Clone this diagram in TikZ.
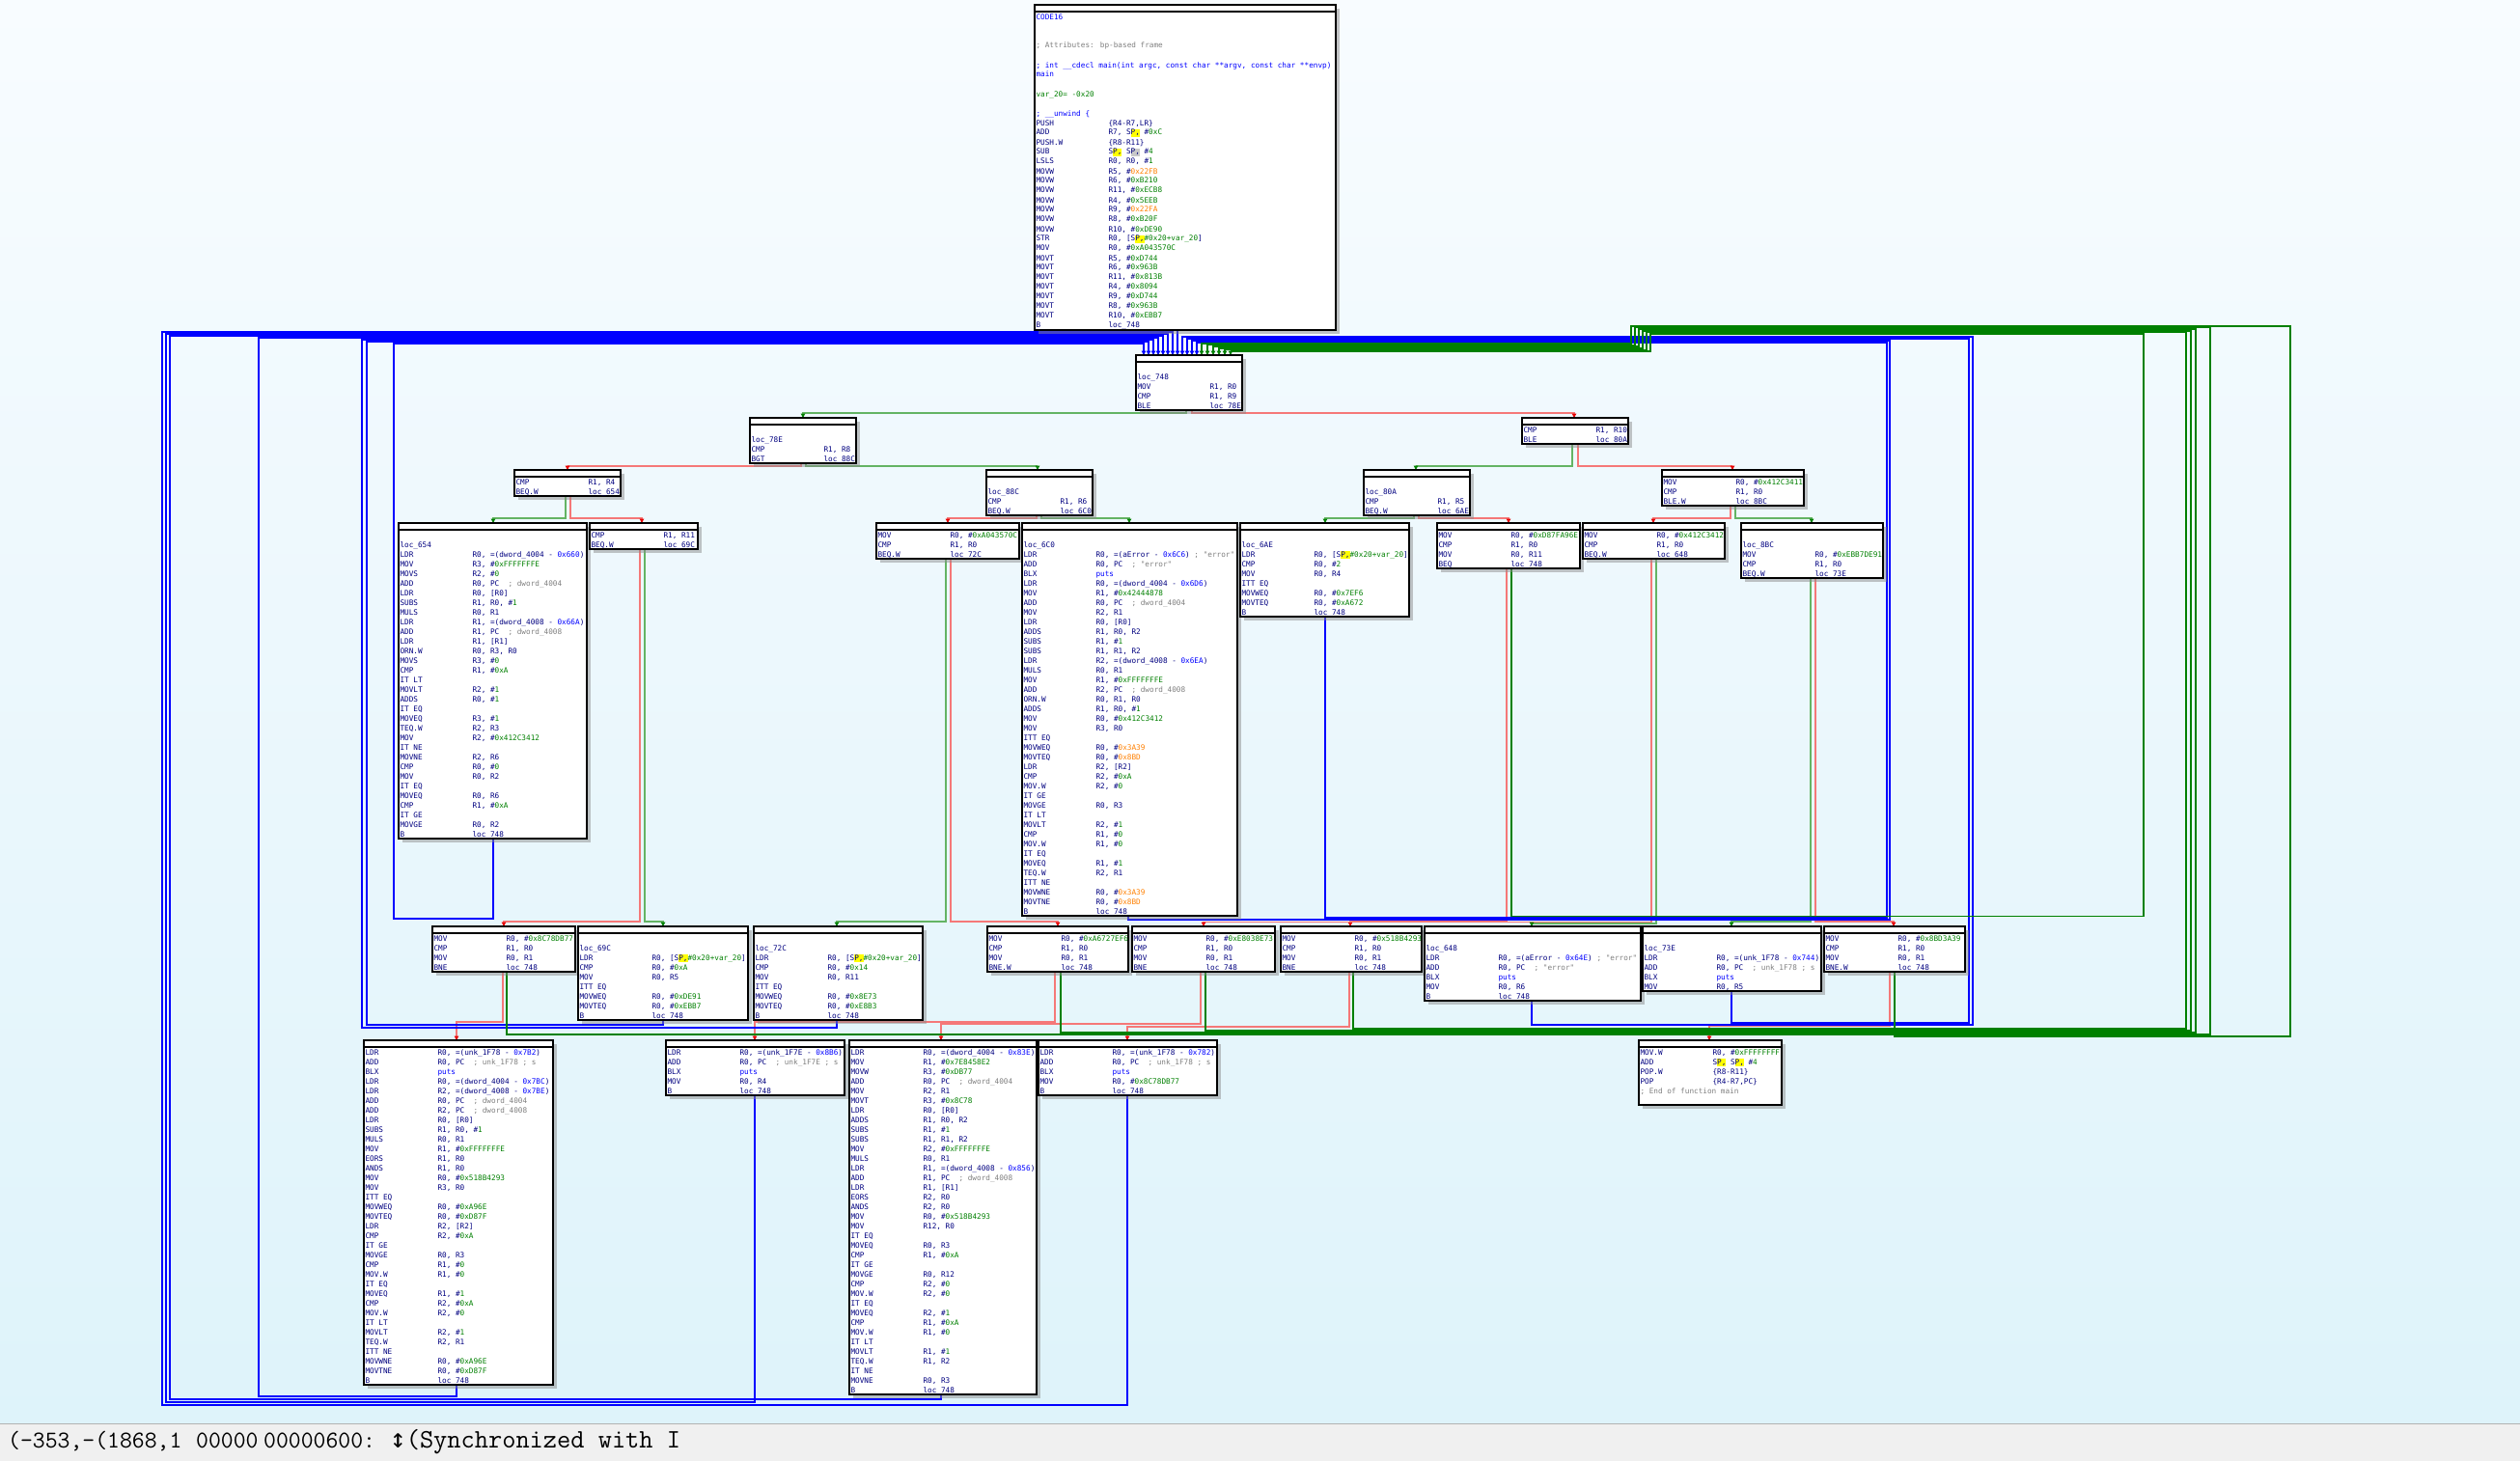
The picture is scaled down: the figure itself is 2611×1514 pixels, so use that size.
\documentclass[tikz,border=0pt]{standalone}
\usepackage{fontspec}
\newfontfamily\qmono{DejaVu Sans Mono}
\usetikzlibrary{arrows.meta}
\pgfdeclarelayer{bglayer}
\pgfdeclarelayer{edges}
\pgfsetlayers{bglayer,edges,main}
\definecolor{tnavy}{RGB}{0,0,128}
\definecolor{tgreen}{RGB}{0,128,0}
\definecolor{torange}{RGB}{255,128,0}
\definecolor{tblue}{RGB}{0,0,255}
\definecolor{tgrey}{RGB}{128,128,128}
\definecolor{thl}{RGB}{255,255,0}
\definecolor{thlg}{RGB}{200,200,200}
\definecolor{ered}{RGB}{245,120,120}
\definecolor{tipred}{RGB}{230,0,0}
\definecolor{egreen}{RGB}{100,180,100}
\definecolor{edgreen}{RGB}{0,128,0}
\definecolor{eblue}{RGB}{0,0,255}
\definecolor{bgtop}{RGB}{248,252,255}
\definecolor{bgbot}{RGB}{222,243,250}
\definecolor{sbar}{RGB}{240,240,240}
\newcommand\qg[1]{\textcolor{tgreen}{#1}}
\newcommand\qo[1]{\textcolor{torange}{#1}}
\newcommand\qb[1]{\textcolor{tblue}{#1}}
\newcommand\qc[1]{\textcolor{tgrey}{#1}}
\newcommand\qhl[2]{{\setlength{\fboxsep}{0pt}\colorbox{#1}{\rule[-1.5pt]{0pt}{7.5pt}#2}}}
\newcommand\qsp{S\qhl{thl}{P,}}
\newcommand\qspg{S\qhl{thlg}{P,}}
\newcommand\qst{\rule[-3pt]{0pt}{10pt}}
\newcommand\qline[1]{\qst#1}
\newcommand\qins[2]{\qst\makebox[75pt][l]{#1}#2}
\newcommand\qB{\qins{B}{loc\_748}}
\tikzset{
  blockbox/.style={draw=black, line width=1.3pt, fill=white, inner sep=0pt, outer sep=0pt, anchor=north west},
  hdrline/.style={draw=black, line width=1.1pt},
  blocktext/.style={inner sep=0pt, outer sep=0pt, align=left, anchor=north west, font=\qmono\fontsize{7.7}{10}\selectfont, text=tnavy},
  shadowbox/.style={fill=black!45, opacity=0.5},
  ejmp/.style={draw=eblue, line width=1.6pt, -{Triangle[length=4.5pt,width=4.5pt]}},
  etrue/.style={draw=egreen, line width=1.6pt, -{Triangle[length=4.5pt,width=4.5pt,color=tgreen]}},
  eback/.style={draw=edgreen, line width=1.6pt, -{Triangle[length=4.5pt,width=4.5pt]}},
  efalse/.style={draw=ered, line width=1.6pt, -{Triangle[length=4.5pt,width=4.5pt,color=tipred]}},
  sbtext/.style={inner sep=0pt, anchor=base west, font=\ttfamily\fontsize{25}{30}\selectfont, text=black}
}
\newcommand\qblock[6]{%
  \fill[shadowbox] ({#2+4},{#3+4}) rectangle ({#2+#4+4},{#3+10*#5+11});
  \node[blockbox, minimum width=#4, minimum height={10*#5+7}] (#1) at (#2,#3) {};
  \draw[hdrline] ([yshift=-7pt]#1.north west) -- ([yshift=-7pt]#1.north east);
  \node[blocktext] (#1t) at ({#2+1.5},{#3+8}) {#6};
}
\begin{document}
\begin{tikzpicture}[x=1pt,y=-1pt]
\useasboundingbox (0,0) rectangle (2611,1514);
\begin{pgfonlayer}{bglayer}
\shade[top color=bgtop, bottom color=bgbot] (0,0) rectangle (2611,1475);
\fill[sbar] (0,1475) rectangle (2611,1514);
\draw[black!30, line width=1pt] (0,1475) -- (2611,1475);
\end{pgfonlayer}

\qblock{b0}{1072}{5}{312}{33}{%
\qline{\qb{CODE16}}\\
\qline{}\\
\qline{}\\
\qline{\qc{; Attributes: bp-based frame}}\\
\qline{}\\
\qline{\qb{; int \_\_cdecl main(int argc, const char **argv, const char **envp)}}\\
\qline{\qb{main}}\\
\qline{}\\
\qline{\qg{var\_20= -0x20}}\\
\qline{}\\
\qline{\qb{; \_\_unwind \{}}\\
\qins{PUSH}{\{R4-R7,LR\}}\\
\qins{ADD}{R7, \qsp{} \#\qg{0xC}}\\
\qins{PUSH.W}{\{R8-R11\}}\\
\qins{SUB}{\qsp{} \qspg{} \#\qg{4}}\\
\qins{LSLS}{R0, R0, \#\qg{1}}\\
\qins{MOVW}{R5, \#\qo{0x22FB}}\\
\qins{MOVW}{R6, \#\qg{0xB210}}\\
\qins{MOVW}{R11, \#\qg{0xECB8}}\\
\qins{MOVW}{R4, \#\qg{0x5EEB}}\\
\qins{MOVW}{R9, \#\qo{0x22FA}}\\
\qins{MOVW}{R8, \#\qg{0xB20F}}\\
\qins{MOVW}{R10, \#\qg{0xDE90}}\\
\qins{STR}{R0, [\qsp\qg{\#0x20+var\_20}]}\\
\qins{MOV}{R0, \#\qg{0xA043570C}}\\
\qins{MOVT}{R5, \#\qg{0xD744}}\\
\qins{MOVT}{R6, \#\qg{0x963B}}\\
\qins{MOVT}{R11, \#\qg{0x813B}}\\
\qins{MOVT}{R4, \#\qg{0x8094}}\\
\qins{MOVT}{R9, \#\qg{0xD744}}\\
\qins{MOVT}{R8, \#\qg{0x963B}}\\
\qins{MOVT}{R10, \#\qg{0xEBB7}}\\
\qB}

\qblock{b748}{1177}{368}{110}{5}{%
\qline{}\\
\qline{loc\_748}\\
\qins{MOV}{R1, R0}\\
\qins{CMP}{R1, R9}\\
\qins{BLE}{loc\_78E}}

\qblock{b78E}{777}{433}{110}{4}{%
\qline{}\\
\qline{loc\_78E}\\
\qins{CMP}{R1, R8}\\
\qins{BGT}{loc\_88C}}

\qblock{bR10}{1577}{433}{110}{2}{%
\qins{CMP}{R1, R10}\\
\qins{BLE}{loc\_80A}}

\qblock{bR4}{533}{487}{110}{2}{%
\qins{CMP}{R1, R4}\\
\qins{BEQ.W}{loc\_654}}

\qblock{b88C}{1022}{487}{110}{4}{%
\qline{}\\
\qline{loc\_88C}\\
\qins{CMP}{R1, R6}\\
\qins{BEQ.W}{loc\_6C0}}

\qblock{b80A}{1413}{487}{110}{4}{%
\qline{}\\
\qline{loc\_80A}\\
\qins{CMP}{R1, R5}\\
\qins{BEQ.W}{loc\_6AE}}

\qblock{b412c}{1722}{487}{147}{3}{%
\qins{MOV}{R0, \#\qg{0x412C3411}}\\
\qins{CMP}{R1, R0}\\
\qins{BLE.W}{loc\_8BC}}

\qblock{b654}{413}{542}{195}{32}{%
\qline{}\\
\qline{loc\_654}\\
\qins{LDR}{R0, =(dword\_4004 - \qb{0x660})}\\
\qins{MOV}{R3, \#\qg{0xFFFFFFFE}}\\
\qins{MOVS}{R2, \#\qg{0}}\\
\qins{ADD}{R0, PC~~\qc{; dword\_4004}}\\
\qins{LDR}{R0, [R0]}\\
\qins{SUBS}{R1, R0, \#\qg{1}}\\
\qins{MULS}{R0, R1}\\
\qins{LDR}{R1, =(dword\_4008 - \qb{0x66A})}\\
\qins{ADD}{R1, PC~~\qc{; dword\_4008}}\\
\qins{LDR}{R1, [R1]}\\
\qins{ORN.W}{R0, R3, R0}\\
\qins{MOVS}{R3, \#\qg{0}}\\
\qins{CMP}{R1, \#\qg{0xA}}\\
\qline{IT LT}\\
\qins{MOVLT}{R2, \#\qg{1}}\\
\qins{ADDS}{R0, \#\qg{1}}\\
\qline{IT EQ}\\
\qins{MOVEQ}{R3, \#\qg{1}}\\
\qins{TEQ.W}{R2, R3}\\
\qins{MOV}{R2, \#\qg{0x412C3412}}\\
\qline{IT NE}\\
\qins{MOVNE}{R2, R6}\\
\qins{CMP}{R0, \#\qg{0}}\\
\qins{MOV}{R0, R2}\\
\qline{IT EQ}\\
\qins{MOVEQ}{R0, R6}\\
\qins{CMP}{R1, \#\qg{0xA}}\\
\qline{IT GE}\\
\qins{MOVGE}{R0, R2}\\
\qB}

\qblock{bR11}{611}{542}{112}{2}{%
\qins{CMP}{R1, R11}\\
\qins{BEQ.W}{loc\_69C}}

\qblock{bA04}{908}{542}{148}{3}{%
\qins{MOV}{R0, \#\qg{0xA043570C}}\\
\qins{CMP}{R1, R0}\\
\qins{BEQ.W}{loc\_72C}}

\qblock{b6C0}{1059}{542}{223}{40}{%
\qline{}\\
\qline{loc\_6C0}\\
\qins{LDR}{R0, =(aError - \qb{0x6C6}) \qc{; "error"}}\\
\qins{ADD}{R0, PC~~\qc{; "error"}}\\
\qins{BLX}{\qb{puts}}\\
\qins{LDR}{R0, =(dword\_4004 - \qb{0x6D6})}\\
\qins{MOV}{R1, \#\qg{0x42444878}}\\
\qins{ADD}{R0, PC~~\qc{; dword\_4004}}\\
\qins{MOV}{R2, R1}\\
\qins{LDR}{R0, [R0]}\\
\qins{ADDS}{R1, R0, R2}\\
\qins{SUBS}{R1, \#\qg{1}}\\
\qins{SUBS}{R1, R1, R2}\\
\qins{LDR}{R2, =(dword\_4008 - \qb{0x6EA})}\\
\qins{MULS}{R0, R1}\\
\qins{MOV}{R1, \#\qg{0xFFFFFFFE}}\\
\qins{ADD}{R2, PC~~\qc{; dword\_4008}}\\
\qins{ORN.W}{R0, R1, R0}\\
\qins{ADDS}{R1, R0, \#\qg{1}}\\
\qins{MOV}{R0, \#\qg{0x412C3412}}\\
\qins{MOV}{R3, R0}\\
\qline{ITT EQ}\\
\qins{MOVWEQ}{R0, \#\qo{0x3A39}}\\
\qins{MOVTEQ}{R0, \#\qo{0x8BD}}\\
\qins{LDR}{R2, [R2]}\\
\qins{CMP}{R2, \#\qg{0xA}}\\
\qins{MOV.W}{R2, \#\qg{0}}\\
\qline{IT GE}\\
\qins{MOVGE}{R0, R3}\\
\qline{IT LT}\\
\qins{MOVLT}{R2, \#\qg{1}}\\
\qins{CMP}{R1, \#\qg{0}}\\
\qins{MOV.W}{R1, \#\qg{0}}\\
\qline{IT EQ}\\
\qins{MOVEQ}{R1, \#\qg{1}}\\
\qins{TEQ.W}{R2, R1}\\
\qline{ITT NE}\\
\qins{MOVWNE}{R0, \#\qo{0x3A39}}\\
\qins{MOVTNE}{R0, \#\qo{0x8BD}}\\
\qB}

\qblock{b6AE}{1285}{542}{175}{9}{%
\qline{}\\
\qline{loc\_6AE}\\
\qins{LDR}{R0, [\qsp\qg{\#0x20+var\_20}]}\\
\qins{CMP}{R0, \#\qg{2}}\\
\qins{MOV}{R0, R4}\\
\qline{ITT EQ}\\
\qins{MOVWEQ}{R0, \#\qg{0x7EF6}}\\
\qins{MOVTEQ}{R0, \#\qg{0xA672}}\\
\qB}

\qblock{bD87}{1489}{542}{148}{4}{%
\qins{MOV}{R0, \#\qg{0xD87FA96E}}\\
\qins{CMP}{R1, R0}\\
\qins{MOV}{R0, R11}\\
\qins{BEQ}{loc\_748}}

\qblock{b412}{1640}{542}{147}{3}{%
\qins{MOV}{R0, \#\qg{0x412C3412}}\\
\qins{CMP}{R1, R0}\\
\qins{BEQ.W}{loc\_648}}

\qblock{b8BC}{1804}{542}{147}{5}{%
\qline{}\\
\qline{loc\_8BC}\\
\qins{MOV}{R0, \#\qg{0xEBB7DE91}}\\
\qins{CMP}{R1, R0}\\
\qins{BEQ.W}{loc\_73E}}

\qblock{b8C7}{448}{960}{148}{4}{%
\qins{MOV}{R0, \#\qg{0x8C78DB77}}\\
\qins{CMP}{R1, R0}\\
\qins{MOV}{R0, R1}\\
\qins{BNE}{loc\_748}}

\qblock{b69C}{599}{960}{176}{9}{%
\qline{}\\
\qline{loc\_69C}\\
\qins{LDR}{R0, [\qsp\qg{\#0x20+var\_20}]}\\
\qins{CMP}{R0, \#\qg{0xA}}\\
\qins{MOV}{R0, R5}\\
\qline{ITT EQ}\\
\qins{MOVWEQ}{R0, \#\qg{0xDE91}}\\
\qins{MOVTEQ}{R0, \#\qg{0xEBB7}}\\
\qB}

\qblock{b72C}{781}{960}{175}{9}{%
\qline{}\\
\qline{loc\_72C}\\
\qins{LDR}{R0, [\qsp\qg{\#0x20+var\_20}]}\\
\qins{CMP}{R0, \#\qg{0x14}}\\
\qins{MOV}{R0, R11}\\
\qline{ITT EQ}\\
\qins{MOVWEQ}{R0, \#\qg{0x8E73}}\\
\qins{MOVTEQ}{R0, \#\qg{0xE8B3}}\\
\qB}

\qblock{bA67}{1023}{960}{146}{4}{%
\qins{MOV}{R0, \#\qg{0xA6727EF6}}\\
\qins{CMP}{R1, R0}\\
\qins{MOV}{R0, R1}\\
\qins{BNE.W}{loc\_748}}

\qblock{bE80}{1173}{960}{148}{4}{%
\qins{MOV}{R0, \#\qg{0xE8038E73}}\\
\qins{CMP}{R1, R0}\\
\qins{MOV}{R0, R1}\\
\qins{BNE}{loc\_748}}

\qblock{b518}{1327}{960}{146}{4}{%
\qins{MOV}{R0, \#\qg{0x518B4293}}\\
\qins{CMP}{R1, R0}\\
\qins{MOV}{R0, R1}\\
\qins{BNE}{loc\_748}}

\qblock{b648}{1476}{960}{224}{7}{%
\qline{}\\
\qline{loc\_648}\\
\qins{LDR}{R0, =(aError - \qb{0x64E}) \qc{; "error"}}\\
\qins{ADD}{R0, PC~~\qc{; "error"}}\\
\qins{BLX}{\qb{puts}}\\
\qins{MOV}{R0, R6}\\
\qB}

\qblock{b73E}{1702}{960}{185}{6}{%
\qline{}\\
\qline{loc\_73E}\\
\qins{LDR}{R0, =(unk\_1F78 - \qb{0x744})}\\
\qins{ADD}{R0, PC~~\qc{; unk\_1F78 ; s}}\\
\qins{BLX}{\qb{puts}}\\
\qins{MOV}{R0, R5}}

\qblock{b8BD}{1890}{960}{146}{4}{%
\qins{MOV}{R0, \#\qg{0x8BD3A39}}\\
\qins{CMP}{R1, R0}\\
\qins{MOV}{R0, R1}\\
\qins{BNE.W}{loc\_748}}

\qblock{b7B2}{377}{1078}{196}{35}{%
\qins{LDR}{R0, =(unk\_1F78 - \qb{0x7B2})}\\
\qins{ADD}{R0, PC~~\qc{; unk\_1F78 ; s}}\\
\qins{BLX}{\qb{puts}}\\
\qins{LDR}{R0, =(dword\_4004 - \qb{0x7BC})}\\
\qins{LDR}{R2, =(dword\_4008 - \qb{0x7BE})}\\
\qins{ADD}{R0, PC~~\qc{; dword\_4004}}\\
\qins{ADD}{R2, PC~~\qc{; dword\_4008}}\\
\qins{LDR}{R0, [R0]}\\
\qins{SUBS}{R1, R0, \#\qg{1}}\\
\qins{MULS}{R0, R1}\\
\qins{MOV}{R1, \#\qg{0xFFFFFFFE}}\\
\qins{EORS}{R1, R0}\\
\qins{ANDS}{R1, R0}\\
\qins{MOV}{R0, \#\qg{0x518B4293}}\\
\qins{MOV}{R3, R0}\\
\qline{ITT EQ}\\
\qins{MOVWEQ}{R0, \#\qg{0xA96E}}\\
\qins{MOVTEQ}{R0, \#\qg{0xD87F}}\\
\qins{LDR}{R2, [R2]}\\
\qins{CMP}{R2, \#\qg{0xA}}\\
\qline{IT GE}\\
\qins{MOVGE}{R0, R3}\\
\qins{CMP}{R1, \#\qg{0}}\\
\qins{MOV.W}{R1, \#\qg{0}}\\
\qline{IT EQ}\\
\qins{MOVEQ}{R1, \#\qg{1}}\\
\qins{CMP}{R2, \#\qg{0xA}}\\
\qins{MOV.W}{R2, \#\qg{0}}\\
\qline{IT LT}\\
\qins{MOVLT}{R2, \#\qg{1}}\\
\qins{TEQ.W}{R2, R1}\\
\qline{ITT NE}\\
\qins{MOVWNE}{R0, \#\qg{0xA96E}}\\
\qins{MOVTNE}{R0, \#\qg{0xD87F}}\\
\qB}

\qblock{b8B6}{690}{1078}{185}{5}{%
\qins{LDR}{R0, =(unk\_1F7E - \qb{0x8B6})}\\
\qins{ADD}{R0, PC~~\qc{; unk\_1F7E ; s}}\\
\qins{BLX}{\qb{puts}}\\
\qins{MOV}{R0, R4}\\
\qB}

\qblock{b83E}{880}{1078}{194}{36}{%
\qins{LDR}{R0, =(dword\_4004 - \qb{0x83E})}\\
\qins{MOV}{R1, \#\qg{0x7E8458E2}}\\
\qins{MOVW}{R3, \#\qg{0xDB77}}\\
\qins{ADD}{R0, PC~~\qc{; dword\_4004}}\\
\qins{MOV}{R2, R1}\\
\qins{MOVT}{R3, \#\qg{0x8C78}}\\
\qins{LDR}{R0, [R0]}\\
\qins{ADDS}{R1, R0, R2}\\
\qins{SUBS}{R1, \#\qg{1}}\\
\qins{SUBS}{R1, R1, R2}\\
\qins{MOV}{R2, \#\qg{0xFFFFFFFE}}\\
\qins{MULS}{R0, R1}\\
\qins{LDR}{R1, =(dword\_4008 - \qb{0x856})}\\
\qins{ADD}{R1, PC~~\qc{; dword\_4008}}\\
\qins{LDR}{R1, [R1]}\\
\qins{EORS}{R2, R0}\\
\qins{ANDS}{R2, R0}\\
\qins{MOV}{R0, \#\qg{0x518B4293}}\\
\qins{MOV}{R12, R0}\\
\qline{IT EQ}\\
\qins{MOVEQ}{R0, R3}\\
\qins{CMP}{R1, \#\qg{0xA}}\\
\qline{IT GE}\\
\qins{MOVGE}{R0, R12}\\
\qins{CMP}{R2, \#\qg{0}}\\
\qins{MOV.W}{R2, \#\qg{0}}\\
\qline{IT EQ}\\
\qins{MOVEQ}{R2, \#\qg{1}}\\
\qins{CMP}{R1, \#\qg{0xA}}\\
\qins{MOV.W}{R1, \#\qg{0}}\\
\qline{IT LT}\\
\qins{MOVLT}{R1, \#\qg{1}}\\
\qins{TEQ.W}{R1, R2}\\
\qline{IT NE}\\
\qins{MOVNE}{R0, R3}\\
\qB}

\qblock{b782}{1076}{1078}{185}{5}{%
\qins{LDR}{R0, =(unk\_1F78 - \qb{0x782})}\\
\qins{ADD}{R0, PC~~\qc{; unk\_1F78 ; s}}\\
\qins{BLX}{\qb{puts}}\\
\qins{MOV}{R0, \#\qg{0x8C78DB77}}\\
\qB}

\qblock{bEnd}{1698}{1078}{148}{6}{%
\qins{MOV.W}{R0, \#\qg{0xFFFFFFFF}}\\
\qins{ADD}{\qsp{} \qsp{} \#\qg{4}}\\
\qins{POP.W}{\{R8-R11\}}\\
\qins{POP}{\{R4-R7,PC\}}\\
\qline{\qc{; End of function main}}\\
\qline{}}

\begin{pgfonlayer}{edges}
% forward edges
\draw[etrue] (b748.south -| 1229,0) |- (832,428) -- (b78E.north -| 832,0);
\draw[efalse] (b748.south -| 1235,0) |- (1631,428) -- (bR10.north -| 1631,0);
\draw[efalse] (b78E.south -| 830,0) |- (588,483) -- (bR4.north -| 588,0);
\draw[etrue] (b78E.south -| 835,0) |- (1075,483) -- (b88C.north -| 1075,0);
\draw[etrue] (bR10.south -| 1629,0) |- (1467,483) -- (b80A.north -| 1467,0);
\draw[efalse] (bR10.south -| 1635,0) |- (1795,483) -- (b412c.north -| 1795,0);
\draw[etrue] (bR4.south -| 586,0) |- (511,537) -- (b654.north -| 511,0);
\draw[efalse] (bR4.south -| 591,0) |- (665,537) -- (bR11.north -| 665,0);
\draw[efalse] (b88C.south -| 1074,0) |- (982,537) -- (bA04.north -| 982,0);
\draw[etrue] (b88C.south -| 1079,0) |- (1170,537) -- (b6C0.north -| 1170,0);
\draw[etrue] (b80A.south -| 1465,0) |- (1373,537) -- (b6AE.north -| 1373,0);
\draw[efalse] (b80A.south -| 1470,0) |- (1563,537) -- (bD87.north -| 1563,0);
\draw[efalse] (b412c.south -| 1793,0) |- (1713,537) -- (b412.north -| 1713,0);
\draw[etrue] (b412c.south -| 1798,0) |- (1877,537) -- (b8BC.north -| 1877,0);
\draw[efalse] (bR11.south -| 663,0) |- (522,955) -- (b8C7.north -| 522,0);
\draw[etrue] (bR11.south -| 668,0) |- (687,955) -- (b69C.north -| 687,0);
\draw[etrue] (bA04.south -| 980,0) |- (867,955) -- (b72C.north -| 867,0);
\draw[efalse] (bA04.south -| 985,0) |- (1096,955) -- (bA67.north -| 1096,0);
\draw[efalse] (bD87.south -| 1561,0) |- (1399,954) -- (b518.north -| 1399,0);
\draw[efalse] (b412.south -| 1711,0) |- (1247,955.5) -- (bE80.north -| 1247,0);
\draw[etrue] (b412.south -| 1716,0) |- (1587,957) -- (b648.north -| 1587,0);
\draw[etrue] (b8BC.south -| 1876,0) |- (1794,955) -- (b73E.north -| 1794,0);
\draw[efalse] (b8BC.south -| 1881,0) |- (1962,955) -- (b8BD.north -| 1962,0);
\draw[efalse] (b8C7.south -| 521,0) |- (473,1059) -- (b7B2.north -| 473,0);
\draw[efalse] (bA67.south -| 1093,0) |- (782,1059) -- (b8B6.north -| 782,0);
\draw[efalse] (bE80.south -| 1244,0) |- (975,1061) -- (b83E.north -| 975,0);
\draw[efalse] (b518.south -| 1398,0) |- (1168,1064) -- (b782.north -| 1168,0);
\draw[efalse] (b8BD.south -| 1958,0) |- (1771,1063) -- (bEnd.north -| 1771,0);
% back edges to loc_748
\draw[ejmp] (b0.south -| 1220,0) -- (b748.north -| 1220,0);
\draw[ejmp] (b782.south -| 1168,0) |- (168,1456) |- (1215,344) -- (b748.north -| 1215,0);
\draw[ejmp] (b8B6.south -| 782,0) |- (172,1453) |- (1210,346) -- (b748.north -| 1210,0);
\draw[ejmp] (b83E.south -| 975,0) |- (176,1450) |- (1205,348) -- (b748.north -| 1205,0);
\draw[ejmp] (b7B2.south -| 473,0) |- (268,1447) |- (1200,350) -- (b748.north -| 1200,0);
\draw[ejmp] (b72C.south -| 867,0) |- (375,1065) |- (1195,352) -- (b748.north -| 1195,0);
\draw[ejmp] (b69C.south -| 687,0) |- (380,1062) |- (1190,354) -- (b748.north -| 1190,0);
\draw[ejmp] (b654.south -| 511,0) |- (408,952) |- (1185,356) -- (b748.north -| 1185,0);
\draw[ejmp] (b648.south -| 1587,0) |- (2044,1062) |- (1225,349) -- (b748.north -| 1225,0);
\draw[ejmp] (b73E.south -| 1794,0) |- (2040,1060) |- (1230,351) -- (b748.north -| 1230,0);
\draw[ejmp] (b6C0.south -| 1169,0) |- (1958,953) |- (1235,353) -- (b748.north -| 1235,0);
\draw[ejmp] (b6AE.south -| 1373,0) |- (1955,951) |- (1240,355) -- (b748.north -| 1240,0);
\draw[eback] (bD87.south -| 1566,0) |- (2221,949.5) |- (1710,346) |- (1275,364) -- (b748.north -| 1275,0);
\draw[eback] (b518.south -| 1402,0) |- (2265,1066) |- (1706,344.4) |- (1269,362.4) -- (b748.north -| 1269,0);
\draw[eback] (bE80.south -| 1249,0) |- (2270,1068) |- (1702,342.8) |- (1263,360.8) -- (b748.north -| 1263,0);
\draw[eback] (bA67.south -| 1099,0) |- (2275,1070) |- (1698,341.2) |- (1257,359.2) -- (b748.north -| 1257,0);
\draw[eback] (b8C7.south -| 525,0) |- (2290,1072) |- (1694,339.6) |- (1251,357.6) -- (b748.north -| 1251,0);
\draw[eback] (b8BD.south -| 1963,0) |- (2373,1074) |- (1690,338) |- (1245,356) -- (b748.north -| 1245,0);
\end{pgfonlayer}

% status bar
\node[sbtext] (sb1) at (8,1500) {(-353,-(1868,1};
\node[sbtext] (sb2) at (203,1500) {00000};
\node[sbtext] (sb3) at (273,1500) {00000600:};
\node[sbtext, font=\ttfamily\fontsize{27.6}{30}\selectfont] (sb4) at (404,1500) {{\qmono ↕}(Synchronized with I};
\end{tikzpicture}
\end{document}
